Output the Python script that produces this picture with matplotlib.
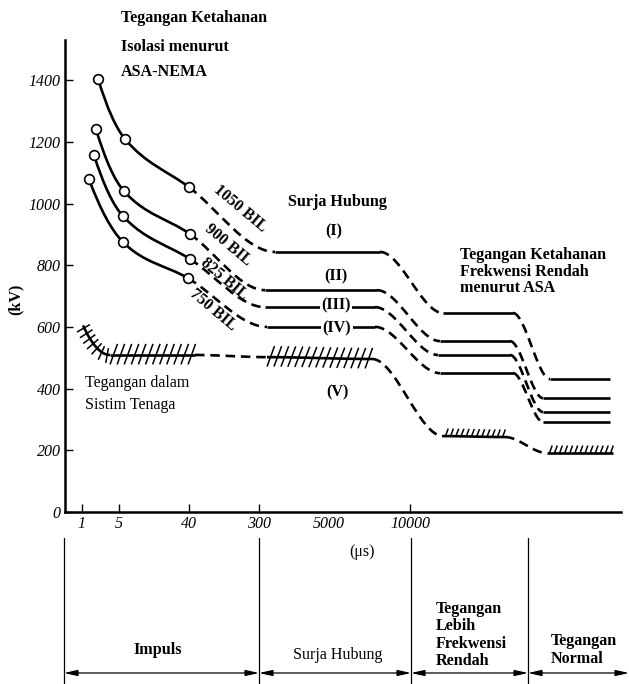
import matplotlib
matplotlib.use('Agg')
import matplotlib.pyplot as plt
import matplotlib.patheffects as pe
from matplotlib.path import Path
from matplotlib.patches import PathPatch

plt.rcParams['font.family'] = ['Liberation Serif', 'DejaVu Serif']

# schematic (non-linear) time axis: tick positions in axis units and labels
tick_pos = [16.5, 53.5, 124, 194, 264, 345]
tick_lab = ['1', '5', '40', '300', '5000', '10000']
kv_ticks = [0, 200, 400, 600, 800, 1000, 1200, 1400]

# insulation withstand curves, knots as (axis position, kV)
bil1050_x = [33, 60, 124, 210, 315, 378, 448, 485, 545]
bil1050_kv = [1405, 1209, 1053, 843, 843, 645, 645, 431, 431]
bil900_x = [31, 59, 125, 200, 312, 375, 445, 478, 545]
bil900_kv = [1241, 1040, 901, 719, 719, 554, 554, 369, 369]
bil825_x = [29, 58, 125, 200, 310, 373, 445, 478, 545]
bil825_kv = [1157, 959, 820, 664, 664, 509, 509, 324, 324]
bil750_x = [24, 58, 123, 202, 310, 375, 448, 478, 545]
bil750_kv = [1079, 875, 758, 600, 600, 450, 450, 292, 292]

# voltages in the power system (V)
sys_x = [18, 45, 130, 202, 307, 378, 440, 482, 548]
sys_kv = [605, 509, 509, 502, 496, 246, 243, 191, 191]

# region boundaries for the lower band
bounds = [-1, 194, 346, 463, 564]

bil_ls = ['-', '-', '--', '-', '--', '-', '--', '-']
sys_ls = ['-', '-', '--', '-', '--', '-', '--', '-']
sys_hatch = ['c', 'x', '', 'x', '', 'up', '', 'up']


def slopes(x, y):
    n = len(x)
    flat = [abs(y[i + 1] - y[i]) < 30 for i in range(n - 1)]
    s = [None] * n
    for i in range(n):
        if (i > 0 and flat[i - 1]) or (i < n - 1 and flat[i]):
            s[i] = 0.0
        elif 0 < i < n - 1:
            s[i] = (y[i + 1] - y[i - 1]) / (x[i + 1] - x[i - 1])
    for i, j in ((0, 1), (n - 1, n - 2)):
        if s[i] is None:
            sec = (y[j] - y[i]) / (x[j] - x[i])
            s[i] = 2 * sec - s[j]
    return s


effects = {
    'x': [pe.Normal(),
          pe.TickedStroke(spacing=5, angle=70, length=1.7, linewidth=1.1),
          pe.TickedStroke(spacing=5, angle=-110, length=1.45, linewidth=1.1)],
    'c': [pe.Normal(),
          pe.TickedStroke(spacing=4, angle=95, length=1.2, linewidth=1.1),
          pe.TickedStroke(spacing=4, angle=-85, length=1.5, linewidth=1.1)],
    'up': [pe.Normal(),
           pe.TickedStroke(spacing=3.5, angle=70, length=1.65, linewidth=1.1)],
}


def draw_curve(ax, x, y, styles, hatches=None, lw=1.9):
    s = slopes(x, y)
    for i, ls in enumerate(styles):
        d = (x[i + 1] - x[i]) / 3
        verts = [(x[i], y[i]), (x[i] + d, y[i] + s[i] * d),
                 (x[i + 1] - d, y[i + 1] - s[i + 1] * d), (x[i + 1], y[i + 1])]
        bez = Path(verts, [Path.MOVETO, Path.CURVE4, Path.CURVE4, Path.CURVE4])
        # flatten the bezier so the ticked strokes follow the real curve
        path = Path(bez.to_polygons(closed_only=False)[0])
        style = (0, (3.6, 2.2)) if ls == '--' else '-'
        patch = PathPatch(path, fill=False, lw=lw, ls=style, color='black',
                          capstyle='butt', joinstyle='round', zorder=2)
        if hatches and hatches[i]:
            patch.set_path_effects(effects[hatches[i]])
        ax.add_patch(patch)


fig = plt.figure(figsize=(6.29, 6.84), dpi=100)
ax = fig.add_axes([65 / 629, 1 - 512 / 684, 556 / 629, 472 / 684])
ax.set_xlim(0, 556)
ax.set_ylim(0, 1530)

for x, y in [(bil1050_x, bil1050_kv), (bil900_x, bil900_kv),
             (bil825_x, bil825_kv), (bil750_x, bil750_kv)]:
    draw_curve(ax, x, y, bil_ls)
    ax.plot(x[:3], y[:3], 'o', ms=7, mfc='white', mec='black', mew=1.2,
            zorder=3, clip_on=False)
draw_curve(ax, sys_x, sys_kv, sys_ls, sys_hatch)

for sp in ['top', 'right']:
    ax.spines[sp].set_visible(False)
for sp in ['left', 'bottom']:
    ax.spines[sp].set_linewidth(1.8)

ax.set_yticks(kv_ticks)
ax.set_yticklabels([str(v) for v in kv_ticks], fontstyle='italic', fontsize=11.5)
ax.set_xticks(tick_pos)
ax.set_xticklabels(tick_lab, fontstyle='italic', fontsize=11.5)
ax.tick_params(axis='both', direction='in', length=6, width=1, pad=3)
ax.xaxis.get_major_ticks()[4].tick1line.set_visible(False)

bold = dict(fontweight='bold', fontsize=11.6, clip_on=False)
ax.text(-49, 690, '(kV)', rotation=90, ha='center', va='center', **bold)
ax.text(56, 1601, 'Tegangan Ketahanan', ha='left', va='center', **bold)
ax.text(56, 1507, 'Isolasi menurut', ha='left', va='center', **bold)
ax.text(56, 1426, 'ASA-NEMA', ha='left', va='center', **bold)

for xx, yy, lab in [(175, 985, '1050 BIL'), (163, 865, '900 BIL'),
                    (159, 755, '825 BIL'), (148, 655, '750 BIL')]:
    ax.text(xx, yy, lab, rotation=-40, ha='center', va='center',
            rotation_mode='anchor', **bold)

ax.text(272, 1005, 'Surja Hubung', ha='center', va='center', **bold)
ax.text(269, 911, '(I)', ha='center', va='center', **bold)
ax.text(271, 765, '(II)', ha='center', va='center', **bold)
ax.text(271, 670, '(III)', ha='center', va='center', zorder=4,
        bbox=dict(fc='white', ec='none', pad=1), **bold)
ax.text(272, 595, '(IV)', ha='center', va='center', zorder=4,
        bbox=dict(fc='white', ec='none', pad=1), **bold)
ax.text(272, 389, '(V)', ha='center', va='center', **bold)
ax.text(395, 833, 'Tegangan Ketahanan', ha='left', va='center', **bold)
ax.text(395, 778, 'Frekwensi Rendah', ha='left', va='center', **bold)
ax.text(395, 726, 'menurut ASA', ha='left', va='center', **bold)
ax.text(20, 418, 'Tegangan dalam', ha='left', va='center', fontsize=11.5)
ax.text(20, 347, 'Sistim Tenaga', ha='left', va='center', fontsize=11.5)

# lower band with the regions
bx = fig.add_axes([0, 0, 1, 146 / 684])
bx.set_xlim(-65, 564)
bx.set_ylim(0, 146)
bx.axis('off')
for b in bounds[:-1]:
    bx.plot([b, b], [0, 146], color='black', lw=0.9)
for a, b in zip(bounds[:-1], bounds[1:]):
    bx.annotate('', xy=(b, 11), xytext=(a, 11),
                arrowprops=dict(arrowstyle='<|-|>,head_length=0.8,head_width=0.18',
                                color='black', lw=0.9, shrinkA=0, shrinkB=0))
bx.text(297, 132, '(μs)', ha='center', va='center', fontsize=11.5)
bx.text(93, 34, 'Impuls', ha='center', va='center', fontweight='bold', fontsize=11.6)
bx.text(273, 29, 'Surja Hubung', ha='center', va='center', fontsize=11.5)
bx.text(371, 49, 'Tegangan\nLebih\nFrekwensi\nRendah', ha='left', va='center',
        fontweight='bold', fontsize=11.6, linespacing=1.12)
bx.text(486, 34, 'Tegangan\nNormal', ha='left', va='center',
        fontweight='bold', fontsize=11.6, linespacing=1.12)

fig.savefig('out.png', dpi=100)
